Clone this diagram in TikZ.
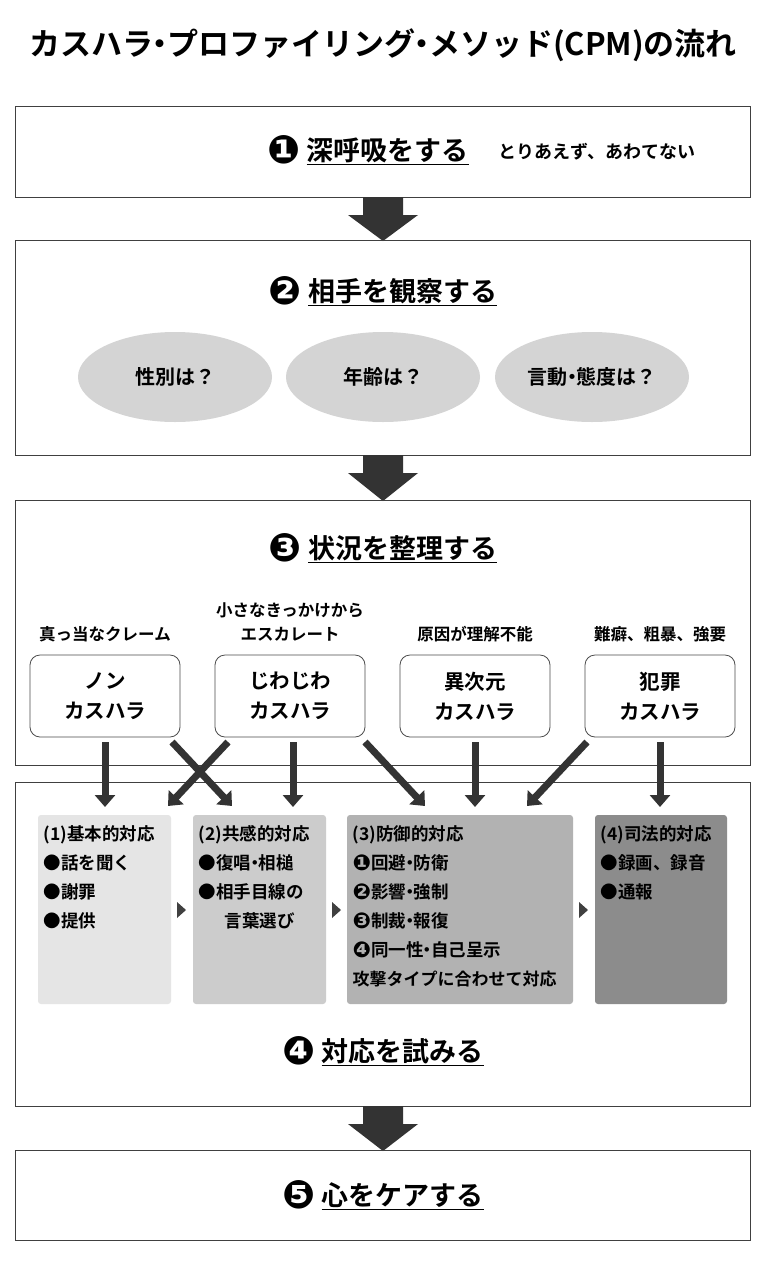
\documentclass[tikz,border=0pt]{standalone}
\usepackage{fontspec}
\setmainfont{Noto Sans CJK JP}[BoldFont={* Bold}]
\newfontfamily\jpb{Noto Sans CJK JP Bold}
\newfontfamily\djv{DejaVu Sans}
\newcommand\md{\makebox[0.45em]{・}}
\newcommand\cn[1]{\raisebox{-0.12em}{\scalebox{1.45}{\djv\bfseries #1}}}
\newcommand\cs[1]{\raisebox{-0.08em}{\scalebox{1.25}{\djv\bfseries #1}}}
\usetikzlibrary{arrows.meta,shapes.geometric}
\begin{document}
\begin{tikzpicture}[x=1pt,y=-1pt,
  frame/.style={draw=black!75,line width=0.8pt},
  big/.style={fill=black!80},
  sec/.style={font=\jpb\fontsize{27}{30}\selectfont},
  ell/.style={ellipse,fill=black!17,minimum width=194,minimum height=90,font=\jpb\fontsize{20}{22}\selectfont},
  tbox/.style={draw=black!70,rounded corners=10pt,line width=0.8pt,minimum width=150,minimum height=82,align=center,font=\jpb\fontsize{20.5}{30}\selectfont},
  lab/.style={font=\jpb\fontsize{16.5}{24}\selectfont,align=center},
  garr/.style={line width=7pt,black!80,-{Triangle[length=12pt,width=20pt]}},
  gbox/.style={rounded corners=3pt},
  gt/.style={anchor=north west,font=\jpb\fontsize{17.5}{29}\selectfont,align=left},
  tri/.style={fill=black!75}]
\useasboundingbox (0,0) rectangle (773,1280);
\fill[white] (0,0) rectangle (773,1280);
\node (title) at (383,45) {\jpb\fontsize{31}{32}\selectfont カスハラ\md プロファイリング\md メソッド(CPM)の流れ};
% box 1
\draw[frame] (15,106) rectangle (750,197);
\node[sec] (s1) at (368,150) {\cn{❶} \underline{深呼吸をする}};
\node[lab,font=\jpb\fontsize{18}{20}\selectfont] (s1b) at (597,152) {とりあえず、あわてない};
% arrows
\newcommand\bigarrow[2]{\fill[big] (363,#1) -- (403,#1) -- (403,#1+18) -- (418,#1+18) -- (383,#2) -- (348,#1+18) -- (363,#1+18) -- cycle;}
\bigarrow{197}{241}
% box 2
\draw[frame] (15,240) rectangle (750,455);
\node[sec] (s2) at (383,291) {\cn{❷} \underline{相手を観察する}};
\node[ell] (e1) at (175,377) {性別は？};
\node[ell] (e2) at (383,377) {年齢は？};
\node[ell] (e3) at (592,377) {言動\md 態度は？};
\bigarrow{455}{501}
% box 3
\draw[frame] (15,500) rectangle (750,765);
\node[sec] (s3) at (383,548) {\cn{❸} \underline{状況を整理する}};
\node[lab] (l1) at (105,634) {真っ当なクレーム};
\node[lab] (l2) at (290,622) {小さなきっかけから\\エスカレート};
\node[lab] (l3) at (475,634) {原因が理解不能};
\node[lab] (l4) at (660,634) {難癖、粗暴、強要};
\node[tbox] (b1) at (105,696) {ノン\\カスハラ};
\node[tbox] (b2) at (290,696) {じわじわ\\カスハラ};
\node[tbox] (b3) at (475,696) {異次元\\カスハラ};
\node[tbox] (b4) at (660,696) {犯罪\\カスハラ};
% box 4
\draw[frame] (15,782) rectangle (750,1106);
\fill[gbox,black!10] (38,815) rectangle (171,1004);
\fill[gbox,black!20] (193,815) rectangle (326,1004);
\fill[gbox,black!30] (347,815) rectangle (573,1004);
\fill[gbox,black!45] (595,815) rectangle (727,1004);
\node[gt] (g1) at (40,822) {(1)基本的対応\\●話を聞く\\●謝罪\\●提供};
\node[gt] (g2) at (195,822) {(2)共感的対応\\●復唱\md 相槌\\●相手目線の\\\hspace*{1.5em}言葉選び};
\node[gt] (g3) at (349,822) {(3)防御的対応\\\cs{❶}回避\md 防衛\\\cs{❷}影響\md 強制\\\cs{❸}制裁\md 報復\\\cs{❹}同一性\md 自己呈示\\{\fontsize{17}{20}\selectfont 攻撃タイプに合わせて対応}};
\node[gt] (g4) at (597,822) {(4)司法的対応\\●録画、録音\\●通報};
\fill[tri] (177,902) -- (186,910) -- (177,918) -- cycle;
\fill[tri] (332,902) -- (341,910) -- (332,918) -- cycle;
\fill[tri] (579,902) -- (588,910) -- (579,918) -- cycle;
\coordinate (a1) at (105,807);
\coordinate (a2) at (168,806);
\coordinate (a3) at (232,806);
\coordinate (a4) at (293,807);
\coordinate (a5) at (425,806);
\coordinate (a6) at (475,807);
\coordinate (a7) at (527,806);
\coordinate (a8) at (660,807);
\draw[garr] (105,742) -- (a1);
\draw[garr] (228,742) -- (a2);
\draw[garr] (172,742) -- (a3);
\draw[garr] (293,742) -- (a4);
\draw[garr] (365,742) -- (a5);
\draw[garr] (475,742) -- (a6);
\draw[garr] (587,742) -- (a7);
\draw[garr] (660,742) -- (a8);
\node[sec] (s4) at (383,1051) {\cn{❹} \underline{対応を試みる}};
\bigarrow{1106}{1151}
\draw[frame] (15,1150) rectangle (750,1240);
\node[sec] (s5) at (383,1195) {\cn{❺} \underline{心をケアする}};
\end{tikzpicture}
\end{document}
